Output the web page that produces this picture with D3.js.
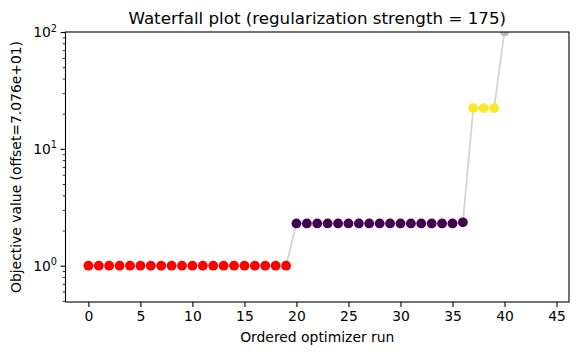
<!DOCTYPE html>
<html>
<head>
<meta charset="utf-8">
<script src="https://cdn.jsdelivr.net/npm/d3@7"></script>
<style>
  html, body { margin: 0; padding: 0; background: #fff; }
  svg { display: block; font-family: "DejaVu Sans", sans-serif; }
</style>
</head>
<body>
<svg id="chart" width="578" height="355"></svg>
<script>
// ---- data ----
const runs = d3.range(45);
const objectiveValues = [
  1.0, 1.0, 1.0, 1.0, 1.0, 1.0, 1.0, 1.0, 1.0, 1.0,
  1.0, 1.0, 1.0, 1.0, 1.0, 1.0, 1.0, 1.0, 1.0, 1.0,
  2.30, 2.30, 2.30, 2.30, 2.30, 2.30, 2.30, 2.30, 2.30, 2.30,
  2.30, 2.30, 2.30, 2.30, 2.30, 2.30, 2.35,
  22.3, 22.3, 22.3,
  101, 150, 200, 260, 320
];
const clusterOfRun = [
  0,0,0,0,0,0,0,0,0,0, 0,0,0,0,0,0,0,0,0,0,
  1,1,1,1,1,1,1,1,1,1, 1,1,1,1,1,1,1,
  2,2,2,
  3,3,3,3,3
];
const clusterColors = ["#ff0000", "#440154", "#fde725", "#bdbdbd"];
const xTicks = [0, 5, 10, 15, 20, 25, 30, 35, 40, 45];
const yMajorTicks = [1, 10, 100];
const yMajorExp = ["0", "1", "2"];
const titleText = "Waterfall plot (regularization strength = 175)";
const xLabelText = "Ordered optimizer run";
const yLabelText = "Objective value (offset=7.076e+01)";

// ---- layout ----
const svg = d3.select("#chart");
const L = 65.5, R = 569, T = 32, B = 302;

const x = d3.scaleLinear().domain([-2.2, 46.2]).range([L, R]);
const y = d3.scaleLog().domain([0.489, 100]).range([B, T]);

svg.append("defs").append("clipPath").attr("id", "clip")
  .append("rect").attr("x", L).attr("y", T).attr("width", R - L).attr("height", B - T);

const plot = svg.append("g").attr("clip-path", "url(#clip)");

const pts = runs.map((r, i) => ({ r, v: objectiveValues[i], c: clusterOfRun[i] }));

plot.append("path")
  .datum(pts)
  .attr("fill", "none")
  .attr("stroke", "#d3d3d3")
  .attr("stroke-width", 1.8)
  .attr("d", d3.line().x(d => x(d.r)).y(d => y(d.v)));

plot.selectAll("circle").data(pts).join("circle")
  .attr("cx", d => x(d.r))
  .attr("cy", d => y(d.v))
  .attr("r", 4.9)
  .attr("fill", d => clusterColors[d.c]);

// ---- axes ----
const xAxis = svg.append("g").attr("transform", `translate(0,${B})`)
  .call(d3.axisBottom(x).tickValues(xTicks).tickSize(4.9).tickPadding(4.5).tickFormat(d3.format("d")));
xAxis.select(".domain").remove();
xAxis.selectAll("line").attr("stroke", "#000").attr("stroke-width", 1.1);
xAxis.selectAll("text").attr("font-size", "13.9px").attr("fill", "#000")
  .attr("font-family", "DejaVu Sans");

// minor y ticks
const minorVals = [];
[0.1, 1, 10].forEach(dec => { for (let k = 2; k <= 9; k++) { const v = k * dec; if (v >= y.domain()[0] && v <= 100) minorVals.push(v); } });
const yMinor = svg.append("g").attr("transform", `translate(${L},0)`)
  .call(d3.axisLeft(y).tickValues(minorVals).tickSize(2.8).tickFormat(""));
yMinor.select(".domain").remove();
yMinor.selectAll("line").attr("stroke", "#000").attr("stroke-width", 0.8);

const yAxis = svg.append("g").attr("transform", `translate(${L},0)`)
  .call(d3.axisLeft(y).tickValues(yMajorTicks).tickSize(4.9).tickFormat(""));
yAxis.select(".domain").remove();
yAxis.selectAll("line").attr("stroke", "#000").attr("stroke-width", 1.1);
yAxis.selectAll(".tick").each(function(d, i) {
  const t = d3.select(this).append("text")
    .attr("x", -8.5).attr("dy", "0.32em")
    .attr("text-anchor", "end")
    .attr("font-size", "13.9px").attr("fill", "#000")
    .attr("font-family", "DejaVu Sans");
  t.append("tspan").text("10");
  t.append("tspan").attr("font-size", "9.7px").attr("dy", "-0.55em").text(yMajorExp[i]);
});

// frame
svg.append("rect").attr("x", L).attr("y", T).attr("width", R - L).attr("height", B - T)
  .attr("fill", "none").attr("stroke", "#000").attr("stroke-width", 1.1);

// ---- labels ----
svg.append("text").attr("x", (L + R) / 2).attr("y", 23.5)
  .attr("text-anchor", "middle").attr("font-size", "16.7px").attr("fill", "#000")
  .text(titleText);

svg.append("text").attr("x", (L + R) / 2).attr("y", 341.5)
  .attr("text-anchor", "middle").attr("font-size", "13.9px").attr("fill", "#000")
  .text(xLabelText);

svg.append("text")
  .attr("transform", `translate(20.5,${(T + B) / 2}) rotate(-90)`)
  .attr("text-anchor", "middle").attr("font-size", "13.9px").attr("fill", "#000")
  .text(yLabelText);
</script>
</body>
</html>
